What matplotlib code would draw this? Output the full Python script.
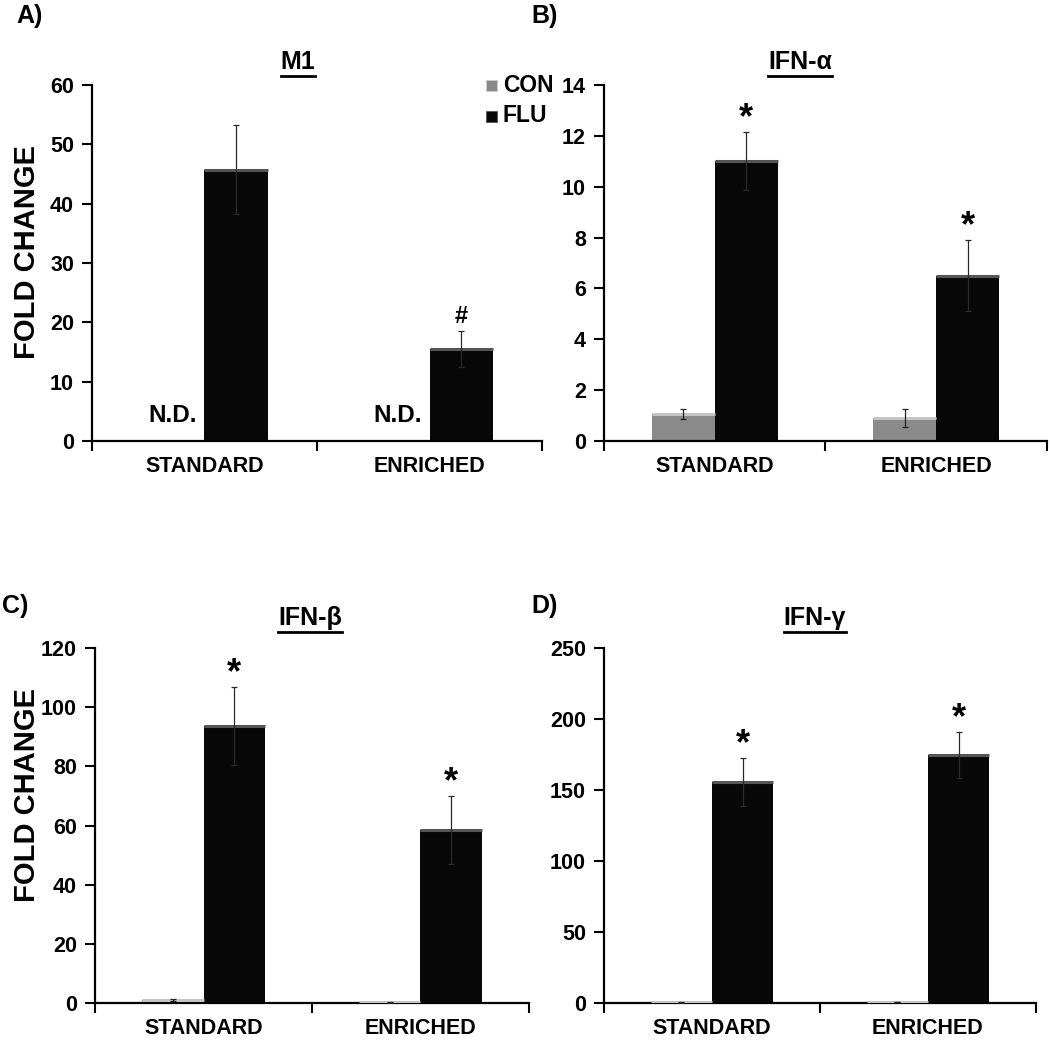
import numpy as np
import matplotlib.pyplot as plt
from matplotlib.lines import Line2D

plt.rcParams['font.family'] = ['Liberation Sans', 'DejaVu Sans']
plt.rcParams['font.weight'] = 'bold'

groups = ['STANDARD', 'ENRICHED']

# M1 (CON not detected)
m1_con = [np.nan, np.nan]
m1_con_err = [0, 0]
m1_flu = [45.7, 15.5]
m1_flu_err = [7.5, 3.0]

# IFN-alpha
ifna_con = [1.05, 0.9]
ifna_con_err = [0.2, 0.35]
ifna_flu = [11.0, 6.5]
ifna_flu_err = [1.15, 1.4]

# IFN-beta
ifnb_con = [1.0, 0.3]
ifnb_con_err = [0.5, 0.15]
ifnb_flu = [93.6, 58.5]
ifnb_flu_err = [13.2, 11.5]

# IFN-gamma
ifng_con = [0.5, 0.7]
ifng_con_err = [0.2, 0.2]
ifng_flu = [155.6, 174.6]
ifng_flu_err = [17.0, 16.2]

CON_C = '#8a8a8a'
FLU_C = '#080808'
w = 0.284

fig = plt.figure(figsize=(10.5, 10.4), dpi=100)
axA = fig.add_axes([0.0876, 0.5760, 0.4286, 0.3423])
axB = fig.add_axes([0.5752, 0.5760, 0.4219, 0.3423])
axC = fig.add_axes([0.0905, 0.0356, 0.4133, 0.3413])
axD = fig.add_axes([0.5752, 0.0356, 0.4114, 0.3413])


def draw_panel(ax, con, con_err, flu, flu_err, ymax, step, mark, nd=False):
    x = np.arange(len(groups))
    if not nd:
        ax.bar(x - w / 2, con, w, color=CON_C, zorder=2)
        ax.hlines(con, x - w, x, color='#c4c4c4', lw=2.2, zorder=3)
        ax.errorbar(x - w / 2, con, yerr=con_err, fmt='none', ecolor='#222222',
                    elinewidth=0.9, capsize=2.5, capthick=0.9, zorder=4)
    else:
        for xi in x:
            ax.text(xi - w / 2, ymax * 0.04, 'N.D.', ha='center', va='bottom',
                    fontsize=17.5, fontweight='bold')
    ax.bar(x + w / 2, flu, w, color=FLU_C, zorder=2)
    ax.hlines(flu, x, x + w, color='#555555', lw=2.2, zorder=3)
    ax.errorbar(x + w / 2, flu, yerr=flu_err, fmt='none', ecolor='#2a2a2a',
                elinewidth=0.9, capsize=2.5, capthick=0.9, zorder=4)
    for xi, v, e, m in zip(x, flu, flu_err, mark):
        if m:
            ax.annotate(m, (xi + w / 2, v + e), xytext=(0, 2 if m == '#' else -3),
                        textcoords='offset points', ha='center', va='bottom',
                        fontsize=26 if m == '*' else 17, fontweight='bold')
    ax.set_xlim(-0.5, 1.5)
    ax.set_ylim(0, ymax)
    ax.set_yticks(np.arange(0, ymax + step / 2, step))
    ax.set_xticks([-0.5, 0.5, 1.5])
    ax.set_xticklabels([])
    ax.set_xticks(x, minor=True)
    ax.set_xticklabels(groups, minor=True)
    ax.tick_params(axis='x', which='minor', length=0, pad=11, labelsize=15.5)
    ax.tick_params(axis='x', which='major', length=7, width=1.5, direction='out')
    ax.tick_params(axis='y', length=7, width=1.5, direction='out', labelsize=15.5, pad=6)
    for s in ['top', 'right']:
        ax.spines[s].set_visible(False)
    for s in ['left', 'bottom']:
        ax.spines[s].set_linewidth(1.6)
    for lab in ax.get_yticklabels() + ax.get_xticklabels(minor=True):
        lab.set_fontweight('bold')


draw_panel(axA, m1_con, m1_con_err, m1_flu, m1_flu_err, 60, 10, [None, '#'], nd=True)
draw_panel(axB, ifna_con, ifna_con_err, ifna_flu, ifna_flu_err, 14, 2, ['*', '*'])
draw_panel(axC, ifnb_con, ifnb_con_err, ifnb_flu, ifnb_flu_err, 120, 20, ['*', '*'])
draw_panel(axD, ifng_con, ifng_con_err, ifng_flu, ifng_flu_err, 250, 50, ['*', '*'])

W, H = 1050, 1040
for lab, (px, py) in zip(['A)', 'B)', 'C)', 'D)'], [(30, 16), (545, 16), (15, 606), (545, 606)]):
    fig.text(px / W, 1 - py / H, lab, ha='center', va='center', fontsize=18, fontweight='bold')

for lab, py in [('FOLD CHANGE', 252), ('FOLD CHANGE', 795)]:
    fig.text(27 / W, 1 - py / H, lab, rotation=90, ha='center', va='center',
             fontsize=21, fontweight='bold')

titles = []
for lab, (px, py) in zip(['M1', 'IFN-α', 'IFN-β', 'IFN-γ'],
                         [(298, 62), (800, 62), (310, 618), (815, 618)]):
    titles.append(fig.text(px / W, 1 - py / H, lab, ha='center', va='center',
                           fontsize=18, fontweight='bold'))

# legend
for lab, col, py in [('CON', CON_C, 85), ('FLU', FLU_C, 116)]:
    fig.patches.append(plt.Rectangle((486 / W, 1 - (py + 6) / H), 11 / W, 11 / H,
                                     transform=fig.transFigure, facecolor=col,
                                     edgecolor='#cccccc' if col == CON_C else '#555555', lw=0.6))
    fig.text(503 / W, 1 - py / H, lab, ha='left', va='center', fontsize=16.5, fontweight='bold')

# underline titles
fig.canvas.draw()
r = fig.canvas.get_renderer()
for t in titles:
    bb = t.get_window_extent(r).transformed(fig.transFigure.inverted())
    yl = bb.y0 - 0.002
    fig.lines.append(Line2D([bb.x0, bb.x1], [yl, yl], transform=fig.transFigure,
                            color='black', lw=2))

fig.savefig('out.png', dpi=100)
